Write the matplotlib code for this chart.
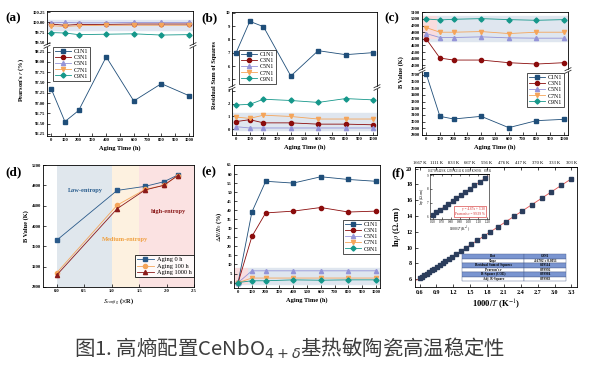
import matplotlib
matplotlib.use('Agg')
import matplotlib.pyplot as plt
from matplotlib.lines import Line2D
import numpy as np

plt.rcParams['font.family'] = ['Liberation Serif', 'DejaVu Serif']
plt.rcParams['mathtext.fontset'] = 'stix'
plt.rcParams['axes.linewidth'] = 0.6

W, H = 590, 365
fig = plt.figure(figsize=(W / 100, H / 100), dpi=100)


def box(l, t, r, b):
    return [l / W, 1 - b / H, (r - l) / W, (b - t) / H]


# ---------------- data ----------------
aging_time = [0, 100, 200, 400, 600, 800, 1000]
time_ticks = [0, 100, 200, 300, 400, 500, 600, 700, 800, 900, 1000]
samples = ['C1N1', 'C3N1', 'C5N1', 'C7N1', 'C9N1']

pearson_r = [
    [97.35, 96.55, 96.82, 98.12, 97.05, 97.47, 97.18],
    [99.96, 99.93, 99.95, 99.95, 99.96, 99.96, 99.96],
    [99.99, 100.00, 99.99, 99.99, 100.00, 100.00, 100.00],
    [99.92, 99.90, 99.92, 99.93, 99.93, 99.93, 99.93],
    [99.75, 99.74, 99.70, 99.71, 99.72, 99.69, 99.70],
]
residual_ss = [
    [7.0, 9.35, 8.95, 5.25, 7.15, 6.85, 7.0],
    [0.6, 0.75, 0.5, 0.5, 0.4, 0.4, 0.35],
    [0.2, 0.1, 0.1, 0.1, 0.1, 0.1, 0.1],
    [0.95, 0.85, 1.1, 1.0, 0.8, 0.8, 0.8],
    [1.9, 1.95, 2.35, 2.25, 2.1, 2.4, 2.3],
]
b_value = [
    [3720, 3080, 3040, 3080, 2910, 3015, 3035],
    [4700, 4410, 4380, 4380, 4340, 4320, 4340],
    [4780, 4720, 4720, 4730, 4715, 4710, 4710],
    [4870, 4800, 4800, 4810, 4780, 4800, 4800],
    [5000, 4985, 4995, 5005, 4990, 4980, 4990],
]
resist_drift = [
    [0, 39.0, 56.0, 55.0, 58.5, 57.0, 56.0],
    [0, 25.5, 38.5, 39.5, 41.5, 39.0, 39.5],
    [0, 6.5, 6.5, 6.5, 6.5, 6.5, 6.5],
    [0, 2.5, 2.5, 2.5, 2.5, 2.5, 2.5],
    [0, 1.0, 1.0, 1.5, 1.3, 1.5, 1.5],
]

s_config = [0.0, 1.10, 1.61, 1.95, 2.20]
aging_labels = ['Aging 0 h', 'Aging 100 h', 'Aging 1000 h']
b_aging_0 = [3720, 4700, 4780, 4870, 5000]
b_aging_100 = [3080, 4410, 4720, 4800, 4985]
b_aging_1000 = [3035, 4340, 4710, 4800, 4990]

inv_t = [0.60, 0.64, 0.68, 0.73, 0.77, 0.82, 0.86, 0.91, 0.96, 1.01, 1.06, 1.12, 1.18,
         1.25, 1.33, 1.42, 1.52, 1.63, 1.74, 1.86, 1.99, 2.13, 2.28, 2.43, 2.60,
         2.77, 2.94, 3.12, 3.30]
ln_rho = [6.10, 6.28, 6.49, 6.70, 6.91, 7.12, 7.33, 7.54, 7.79, 8.01, 8.26, 8.52, 8.82,
          9.13, 9.52, 9.92, 10.41, 10.90, 11.44, 11.98, 12.60, 13.24, 13.96, 14.64, 15.45,
          16.23, 17.04, 17.86, 18.72]
f_ticks = [0.6, 0.9, 1.2, 1.5, 1.8, 2.1, 2.4, 2.7, 3.0, 3.3]
table_rows = [['Plot', 'C9N1'],
              ['Slope', '4.6702 ± 0.0051'],
              ['Residual Sum of Squares', '0.09514'],
              ['Pearson\'s r', '0.99992'],
              ['R-Square (COD)', '0.99984'],
              ['Adj. R-Square', '0.99983']]

colors = ['#1f4e79', '#8b0c0c', '#9494d8', '#f5a55a', '#15978a']
markers = ['s', 'o', '^', 'v', 'D']
TFS = 3.3
LFS = 4.6


def style(ax, fs=TFS):
    ax.tick_params(direction='in', length=2, width=0.5, labelsize=fs, pad=1.5)


def series(ax):
    for name, vals, c, m in zip(samples, cur_data, colors, markers):
        ax.plot(aging_time, vals, color=c, marker=m, ms=3 if m != 'D' else 2.6,
                lw=0.6, label=name, zorder=3)


def legend_at(handles, x, y):
    lg = fig.legend(handles, samples if len(handles) == 5 else aging_labels,
                    loc='upper left', bbox_to_anchor=(x / W, 1 - y / H),
                    fontsize=4.3, frameon=True, fancybox=False, borderpad=0.35,
                    handlelength=2.6, labelspacing=0.15, handletextpad=0.5,
                    borderaxespad=0)
    lg.get_frame().set_edgecolor('black')
    lg.get_frame().set_linewidth(0.6)
    return lg


def brk(xpx, ypx):
    for dy in (-1.3, 1.3):
        fig.add_artist(Line2D([(xpx - 3) / W, (xpx + 3) / W],
                              [1 - (ypx + dy + 1.5) / H, 1 - (ypx + dy - 1.5) / H],
                              color='#333333', lw=0.6))


def broken(top_b, bot_b, top_lim, bot_lim, top_ticks, bot_ticks, fmt):
    axt = fig.add_axes(box(*top_b))
    axb = fig.add_axes(box(*bot_b))
    for ax in (axt, axb):
        ax.set_xlim(-30, 1030)
        style(ax)
    axt.set_ylim(*top_lim)
    axb.set_ylim(*bot_lim)
    axt.spines['bottom'].set_visible(False)
    axb.spines['top'].set_visible(False)
    axt.tick_params(bottom=False, labelbottom=False)
    axt.set_yticks(top_ticks, labels=[fmt % v for v in top_ticks], fontweight='bold')
    axb.set_yticks(bot_ticks, labels=[fmt % v for v in bot_ticks], fontweight='bold')
    axb.set_xticks(time_ticks, labels=[str(t) for t in time_ticks], fontweight='bold')
    axb.set_xlabel('Aging Time (h)', fontsize=LFS, fontweight='bold', labelpad=2)
    gap = (top_b[3] + bot_b[1]) / 2
    brk(top_b[0], gap)
    brk(top_b[2], gap)
    return axt, axb


def panel_label(txt, x, y):
    fig.text(x / W, 1 - y / H, txt, fontsize=9.5, fontweight='bold', va='center', ha='left')


# ---------------- (a) ----------------
axt, axb = broken((47, 11, 193, 44), (47, 47, 193, 136), (99.47, 100.28), (96.2, 98.36),
                  [99.5, 99.75, 100.0, 100.25], [96.25, 96.5, 96.75, 97.0, 97.25, 97.5, 97.75, 98.0, 98.25],
                  '%.2f')
axt.axhspan(99.81, 100.05, color='#e1e6f1', zorder=0)
cur_data = pearson_r
series(axt)
series(axb)
h, _ = axb.get_legend_handles_labels()
legend_at(h, 53, 47)
fig.text(21 / W, 1 - 80 / H, "Pearson's $r$ (%)", rotation=90, fontsize=LFS, fontweight='bold',
         va='center', ha='center')
panel_label('(a)', 5, 18)

# ---------------- (b) ----------------
axt, axb = broken((232, 12, 377, 86), (232, 89, 377, 135), (4.5, 10.05), (-0.45, 3.15),
                  [5, 6, 7, 8, 9, 10], [0, 1, 2, 3], '%d')
axb.axhspan(-0.05, 1.25, color='#dfe6ef', zorder=0)
cur_data = residual_ss
series(axt)
series(axb)
h, _ = axb.get_legend_handles_labels()
legend_at(h, 239, 50)
fig.text(215 / W, 1 - 75 / H, 'Residual Sum of Squares', rotation=90, fontsize=LFS,
         fontweight='bold', va='center', ha='center')
panel_label('(b)', 201, 18)

# ---------------- (c) ----------------
axt, axb = broken((422, 12, 568, 69), (422, 72, 568, 135), (4245, 5105), (2800, 3745),
                  [4300, 4400, 4500, 4600, 4700, 4800, 4900, 5000, 5100],
                  [2800, 2900, 3000, 3100, 3200, 3300, 3400, 3500, 3600, 3700], '%d')
axt.axhspan(4660, 5040, color='#dfe6ef', zorder=0)
axt.fill_between([-30, 80], 4700, 5040, color='#f9dcde', zorder=1, lw=0)
cur_data = b_value
series(axt)
series(axb)
h, _ = axb.get_legend_handles_labels()
legend_at(h, 527, 73)
fig.text(401 / W, 1 - 72 / H, 'B Value (K)', rotation=90, fontsize=LFS, fontweight='bold',
         va='center', ha='center')
panel_label('(c)', 384, 18)

# ---------------- (d) ----------------
axd = fig.add_axes(box(43, 165, 194, 287))
style(axd)
axd.set_xlim(-0.25, 2.5)
axd.set_ylim(2800, 5200)
axd.axvspan(0.0, 1.0, color='#e0e7ed', zorder=0, lw=0)
axd.axvspan(1.0, 1.5, color='#fdf1e0', zorder=0, lw=0)
axd.axvspan(1.5, 2.5, color='#fbe2e2', zorder=0, lw=0)
d_colors = ['#2a5a8a', '#f5a55a', '#8b1a1a']
d_markers = ['s', 'o', '^']
for lab, vals, c, m in zip(aging_labels, [b_aging_0, b_aging_100, b_aging_1000], d_colors, d_markers):
    axd.plot(s_config, vals, color=c, marker=m, ms=3, lw=0.6, label=lab, zorder=3)
dt = [0.0, 0.5, 1.0, 1.5, 2.0, 2.5]
axd.set_xticks(dt, labels=['%.1f' % v for v in dt], fontweight='bold')
yt = [2800, 3200, 3600, 4000, 4400, 4800, 5200]
axd.set_yticks(yt, labels=[str(v) for v in yt], fontweight='bold')
axd.text(0.52, 4700, 'Low-entropy', color='#2c5f8f', fontsize=4.6, fontweight='bold', ha='center', va='center')
axd.text(1.25, 3730, 'Medium-entropy', color='#f0a040', fontsize=4.6, fontweight='bold', ha='center', va='center')
axd.text(2.04, 4280, 'high-entropy', color='#8b1a1a', fontsize=4.6, fontweight='bold', ha='center', va='center')
axd.set_xlabel(r'$S_{config}$ ($\times$R)', fontsize=LFS, fontweight='bold', labelpad=2)
axd.set_ylabel('B Value (K)', fontsize=LFS, fontweight='bold', labelpad=2)
h, _ = axd.get_legend_handles_labels()
lg = fig.legend(h, aging_labels, loc='upper left', bbox_to_anchor=(135 / W, 1 - 255 / H),
                fontsize=4.6, frameon=True, fancybox=False, borderpad=0.3, handlelength=2.6,
                labelspacing=0.15, handletextpad=0.5, borderaxespad=0)
lg.get_frame().set_edgecolor('black')
lg.get_frame().set_linewidth(0.7)
panel_label('(d)', 5, 172)

# ---------------- (e) ----------------
axe = fig.add_axes(box(234, 165, 380, 288))
style(axe)
axe.set_xlim(-30, 1030)
axe.set_ylim(-3, 65)
axe.axhspan(-0.8, 8.2, color='#dfe6ef', zorder=0)
axe.fill_between([-30, 75], -0.8, 8.2, color='#f9dcde', zorder=1, lw=0)
cur_data = resist_drift
series(axe)
axe.set_xticks(time_ticks, labels=[str(t) for t in time_ticks], fontweight='bold')
et = list(range(0, 70, 5))
axe.set_yticks(et, labels=[str(v) for v in et], fontweight='bold')
axe.set_xlabel('Aging Time (h)', fontsize=LFS, fontweight='bold', labelpad=2)
axe.set_ylabel(r'$\Delta R/R_0$ (%)', fontsize=LFS, fontweight='bold', labelpad=2)
h, _ = axe.get_legend_handles_labels()
legend_at(h, 343, 220)
panel_label('(e)', 201, 172)

# ---------------- (f) ----------------
axf = fig.add_axes(box(415, 167, 577, 287))
axf.tick_params(direction='in', length=2, width=0.5, labelsize=4.3, pad=2)
axf.set_xlim(0.52, 3.4)
axf.set_ylim(5, 20.2)
coef = np.polyfit(inv_t, ln_rho, 1)
xl = np.array([0.55, 3.33])
axf.plot(xl, np.polyval(coef, xl), color='#e05050', lw=0.6, zorder=2)
axf.plot(inv_t, ln_rho, 's', color='#2b3d5c', ms=2.8, zorder=3)
axf.set_xticks(f_ticks, labels=['%.1f' % v for v in f_ticks], fontweight='bold')
fy = [6, 8, 10, 12, 14, 16, 18, 20]
axf.set_yticks(fy, labels=[str(v) for v in fy], fontweight='bold')
axf.set_xlabel(r'1000/$T$ (K$^{-1}$)', fontsize=6.2, fontweight='bold', labelpad=2)
axf.set_ylabel(r'ln$\rho$ ($\Omega$.cm)', fontsize=6.2, fontweight='bold', labelpad=2)
sec = axf.secondary_xaxis('top')
sec.tick_params(direction='in', length=2, width=0.5, labelsize=3.3, pad=1.5)
sec.set_xticks(f_ticks, labels=['%d K' % round(1000 / v) for v in f_ticks])
panel_label('(f)', 391, 173)

# inset
in_x = [x for x in inv_t if x <= 1.2]
in_y = ln_rho[:len(in_x)]
axi = fig.add_axes(box(430, 174, 489, 219))
axi.tick_params(direction='in', length=1.2, width=0.4, labelsize=2.3, pad=1)
for s in axi.spines.values():
    s.set_linewidth(0.4)
axi.set_xlim(0.57, 1.22)
axi.set_ylim(5.8, 9.1)
xi = np.array([0.58, 1.21])
axi.plot(xi, np.polyval(coef, xi), color='#e05050', lw=0.5)
axi.plot(in_x, in_y, 's', color='#2b3d5c', ms=2.2)
it = [0.6, 0.7, 0.8, 0.9, 1.0, 1.1, 1.2]
axi.set_xticks(it, labels=['%.2f' % v for v in it])
axi.set_yticks([6, 7, 8, 9])
axi.set_xlabel(r'1000/$T$ (K$^{-1}$)', fontsize=2.6, labelpad=0.5)
axi.set_ylabel(r'ln$\rho$ ($\Omega$.cm)', fontsize=2.6, labelpad=0.5)
seci = axi.secondary_xaxis('top')
seci.tick_params(direction='in', length=1.2, width=0.4, labelsize=2.1, pad=0.8)
seci.set_xticks(it, labels=['%d K' % round(1000 / v) for v in it])
axi.text(0.93, 0.17, 'y = %.2fx + %.2f\nPearson\'s r = 99.99 %%' % (coef[0], coef[1]),
         transform=axi.transAxes, fontsize=2.4, color='#d02020', ha='right', va='center',
         bbox=dict(boxstyle='square,pad=0.3', fc='white', ec='#d02020', lw=0.4))

# table
axtb = fig.add_axes(box(462, 254, 566, 281))
axtb.axis('off')
cell_colors = [['#7a95d0'] * 2 if i % 2 == 0 else ['white'] * 2 for i in range(len(table_rows))]
tb = axtb.table(cellText=table_rows, cellColours=cell_colors, bbox=[0, 0, 1, 1],
                colWidths=[0.6, 0.4], cellLoc='center')
tb.auto_set_font_size(False)
tb.set_fontsize(2.4)
for (r, c), cell in tb.get_celld().items():
    cell.set_linewidth(0.3)
    cell.set_edgecolor('#4a5f90')
    cell.get_text().set_fontweight('bold')

# caption
fig.text(290 / W, 1 - 348 / H, '图1. 高熵配置CeNbO$_{4+\\delta}$基热敏陶瓷高温稳定性',
         family=['Noto Sans CJK SC', 'DejaVu Sans'], math_fontfamily='dejavusans',
         fontsize=14.7, color='#3d3d3d', ha='center', va='center')

fig.savefig('out.png', dpi=100)
